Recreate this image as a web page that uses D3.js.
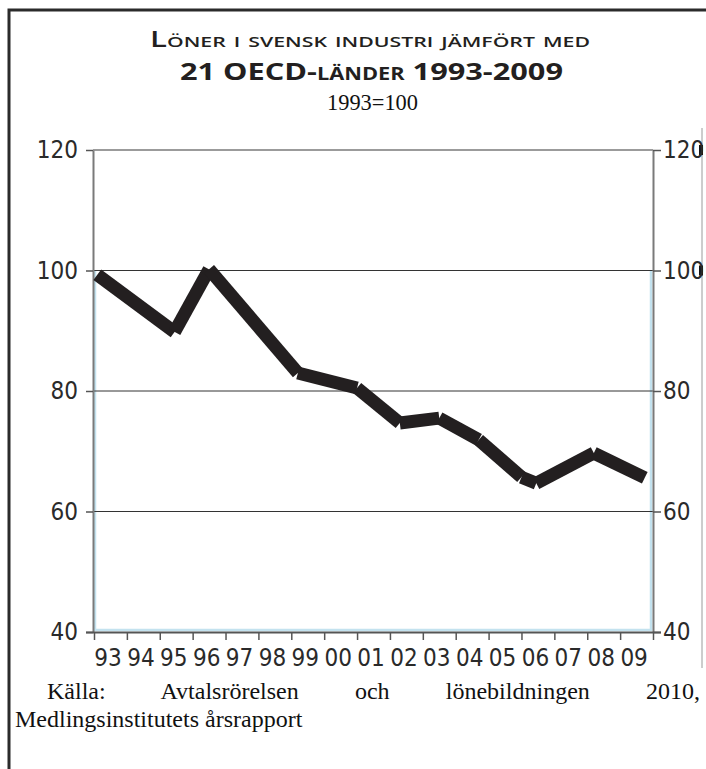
<!DOCTYPE html>
<html>
<head>
<meta charset="utf-8">
<script src="https://cdn.jsdelivr.net/npm/d3@7"></script>
<style>
  html, body { margin: 0; padding: 0; background: #fff; }
  svg { display: block; }
</style>
</head>
<body>
<div id="chart"></div>
<script>
// Värden
const yearLabels = ["93","94","95","96","97","98","99","00","01","02","03","04","05","06","07","08","09"];
const yTicks = [40, 60, 80, 100, 120];
const gridValues = [60, 80, 100];
// brytpunkter längs linjen (år som decimaltal) och index 1993=100
const pointYears = [1993.1, 1995.45, 1996.5, 1999.2, 2001.0, 2002.3, 2003.5, 2004.7, 2006.0, 2006.45, 2008.2, 2009.75];
const pointValues = [99.3, 89.8, 100.2, 83.0, 80.5, 74.7, 75.5, 71.9, 65.7, 64.7, 69.7, 65.6];

const W = 706, H = 769;
const plotL = 93, plotR = 653, plotT = 150, plotB = 632;
const axisFont = "'Liberation Sans Narrow', 'DejaVu Sans Condensed', sans-serif";

const svg = d3.select("#chart").append("svg").attr("width", W).attr("height", H);

const x = d3.scaleLinear().domain([1993, 2010]).range([plotL + 1, plotR]);
const y = d3.scaleLinear().domain([40, 120]).range([plotB, plotT]);

/* ── yttre ram ─────────────────────────────── */
svg.append("path")
  .attr("d", `M9,${H} V10 H${W}`)
  .attr("fill", "none").attr("stroke", "#2b2b2b").attr("stroke-width", 3);
svg.append("line")
  .attr("x1", 702).attr("x2", 702).attr("y1", 128).attr("y2", 668)
  .attr("stroke", "#9a9a9a").attr("stroke-width", 1);
[120, 100].forEach(v => {
  svg.append("rect").attr("x", 699).attr("y", y(v) - 5).attr("width", 4).attr("height", 10).attr("fill", "#111");
});

/* ── rubrik ────────────────────────────────── */
const titleFont = "'Open Sans', 'Noto Sans', sans-serif";
svg.append("text")
  .attr("x", 150).attr("y", 47)
  .attr("font-family", titleFont).attr("font-size", 22).attr("font-weight", 600)
  .attr("font-variant", "small-caps").attr("fill", "#231f20")
  .attr("textLength", 440).attr("lengthAdjust", "spacingAndGlyphs")
  .text("Löner i svensk industri jämfört med");
svg.append("text")
  .attr("x", 180).attr("y", 80)
  .attr("font-family", titleFont).attr("font-size", 24).attr("font-weight", 700)
  .attr("font-variant", "small-caps").attr("fill", "#231f20")
  .attr("textLength", 383).attr("lengthAdjust", "spacingAndGlyphs")
  .text("21 OECD-länder 1993-2009");
svg.append("text")
  .attr("x", 327).attr("y", 110)
  .attr("font-family", "'Liberation Serif', serif").attr("font-size", 24)
  .attr("fill", "#111")
  .attr("textLength", 91).attr("lengthAdjust", "spacingAndGlyphs")
  .text("1993=100");

/* ── ljusblå ram kvar från originalet ───────── */
svg.append("path")
  .attr("d", `M${plotL + 2},${y(100)} V${plotB - 2} H${plotR - 2} V${y(100)}`)
  .attr("fill", "none").attr("stroke", "#c3e2ef").attr("stroke-width", 2.5);

/* ── rutnät ───────────────────────────────── */
svg.append("line")
  .attr("x1", plotL).attr("x2", plotR).attr("y1", y(120)).attr("y2", y(120))
  .attr("stroke", "#7a7a7a").attr("stroke-width", 1.5);
svg.selectAll(".grid").data(gridValues).join("line")
  .attr("class", "grid")
  .attr("x1", plotL).attr("x2", plotR)
  .attr("y1", d => y(d)).attr("y2", d => y(d))
  .attr("stroke", "#333").attr("stroke-width", 1);

/* ── axlar ────────────────────────────────── */
function styleAxis(g) {
  g.select(".domain").attr("stroke", "#7a7a7a").attr("stroke-width", 2);
  g.selectAll(".tick line").attr("stroke", "#555").attr("stroke-width", 1.5);
  g.selectAll(".tick text").attr("fill", "#2a2a2a").attr("font-size", 24).attr("font-family", axisFont);
}
svg.append("g").attr("transform", `translate(${plotL},0)`)
  .call(d3.axisLeft(y).tickValues(yTicks).tickSize(7).tickSizeOuter(0).tickPadding(8))
  .call(styleAxis);
svg.append("g").attr("transform", `translate(${plotR},0)`)
  .call(d3.axisRight(y).tickValues(yTicks).tickSize(8).tickSizeOuter(0).tickPadding(2))
  .call(styleAxis);

const xTicks = d3.range(1993, 2011);
const xAxis = svg.append("g").attr("transform", `translate(0,${plotB})`)
  .call(d3.axisBottom(x).tickValues(xTicks).tickSize(8).tickSizeOuter(0).tickFormat(""))
  .call(styleAxis);
xAxis.select(".domain").attr("d", `M${plotL - 7},0.5H${plotR + 8}`).attr("stroke", "#555");

svg.append("g").selectAll("text").data(yearLabels).join("text")
  .attr("x", (d, i) => x(1993 + i) + 14)
  .attr("y", 666)
  .attr("text-anchor", "middle")
  .attr("font-family", axisFont).attr("font-size", 24).attr("fill", "#2a2a2a")
  .text(d => d);

/* ── serien: varje sträcka för sig med raka ändar ── */
const pts = pointYears.map((yr, i) => [x(yr), y(pointValues[i])]);
svg.append("g").selectAll("line").data(d3.pairs(pts)).join("line")
  .attr("x1", d => d[0][0]).attr("y1", d => d[0][1])
  .attr("x2", d => d[1][0]).attr("y2", d => d[1][1])
  .attr("stroke", "#231f20").attr("stroke-width", 13).attr("stroke-linecap", "butt");

/* ── källa ────────────────────────────────── */
const src1 = svg.append("text")
  .attr("x", 47).attr("y", 699)
  .attr("font-family", "'Liberation Serif', serif").attr("font-size", 24).attr("fill", "#111")
  .text("Källa: Avtalsrörelsen och lönebildningen 2010,");
const natural = src1.node().getComputedTextLength();
src1.attr("word-spacing", (700 - 47 - natural) / 4);
svg.append("text")
  .attr("x", 15).attr("y", 727)
  .attr("font-family", "'Liberation Serif', serif").attr("font-size", 24).attr("fill", "#111")
  .text("Medlingsinstitutets årsrapport");
</script>
</body>
</html>
